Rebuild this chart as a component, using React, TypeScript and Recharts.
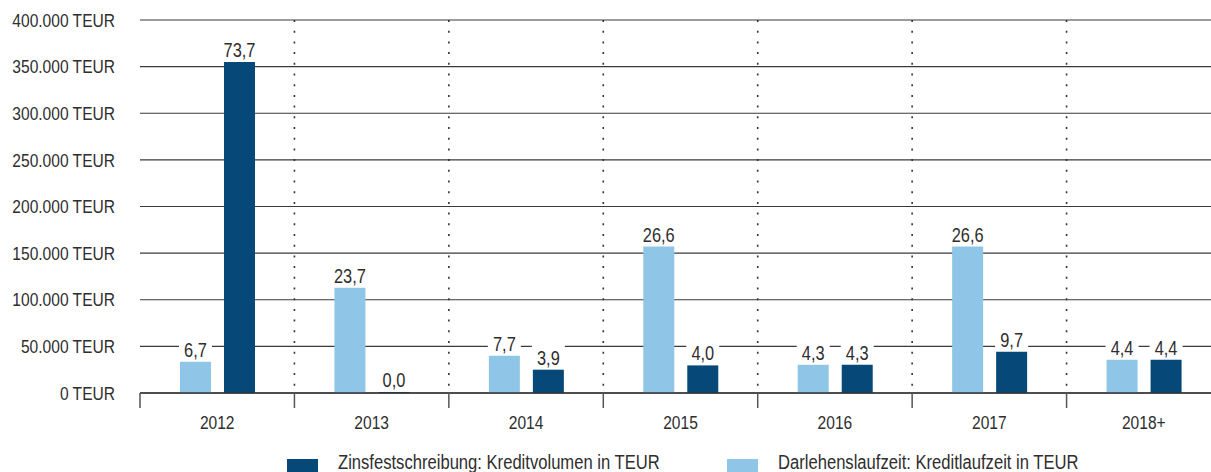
import React from 'react';
import { BarChart, Bar, XAxis, YAxis, CartesianGrid, Legend, LabelList } from 'recharts';

const categories = ['2012', '2013', '2014', '2015', '2016', '2017', '2018+'];
const laufzeitValues = [33500, 113000, 40000, 157000, 30300, 157000, 35700];
const volumenValues = [355000, 0, 25000, 29600, 30300, 44300, 35700];
const laufzeitLabels = ['6,7', '23,7', '7,7', '26,6', '4,3', '26,6', '4,4'];
const volumenLabels = ['73,7', '0,0', '3,9', '4,0', '4,3', '9,7', '4,4'];
const yTicks = [0, 50000, 100000, 150000, 200000, 250000, 300000, 350000, 400000];
const seriesNames = ['Zinsfestschreibung: Kreditvolumen in TEUR', 'Darlehenslaufzeit: Kreditlaufzeit in TEUR'];

const DARK = '#064877';
const LIGHT = '#8FC5E6';
const TEXT = '#2e2e2e';
const FONT = '"Liberation Sans", Arial, sans-serif';
const SX = 0.82;

const data = categories.map((c, i) => ({
  cat: c,
  laufzeit: laufzeitValues[i],
  volumen: volumenValues[i],
  laufzeitLabel: laufzeitLabels[i],
  volumenLabel: volumenLabels[i],
}));

const fmt = (v: number) => String(v).replace(/\B(?=(\d{3})+(?!\d))/g, '.') + ' TEUR';

const BarLabel = (props: any) => {
  const { x, y, width, value } = props;
  const cx = Number(x) + Number(width) / 2;
  const top = Number(y);
  return (
    <g>
      <rect x={Number(x) - 1} y={top - 25} width={Number(width) + 2} height={22} fill="#ffffff" />
      <text
        transform={`translate(${cx},${top - 5}) scale(${SX},1)`}
        textAnchor="middle"
        fill={TEXT}
        fontSize={20}
        fontFamily={FONT}
      >
        {value}
      </text>
    </g>
  );
};

const XTick = (props: any) => {
  const { x, y, payload, index } = props;
  const half = payload && payload.offset ? payload.offset : 1081 / 14;
  const axisY = 393;
  return (
    <g>
      <line x1={x - half} x2={x - half} y1={axisY} y2={axisY + 15} stroke="#555" strokeWidth={1.5} />
      {index === categories.length - 1 && (
        <line x1={x + half} x2={x + half} y1={axisY} y2={axisY + 15} stroke="#555" strokeWidth={1.5} />
      )}
      <text
        transform={`translate(${x},${y}) scale(${SX},1)`}
        dy="0.71em"
        textAnchor="middle"
        fill={TEXT}
        fontSize={19}
        fontFamily={FONT}
      >
        {payload.value}
      </text>
    </g>
  );
};

const YTick = (props: any) => {
  const { x, y, payload } = props;
  return (
    <text
      transform={`translate(${x},${y}) scale(${SX},1)`}
      dy="0.355em"
      textAnchor="end"
      fill={TEXT}
      fontSize={19}
      fontFamily={FONT}
    >
      {fmt(payload.value)}
    </text>
  );
};

const LegendContent = () => {
  const colors = [DARK, LIGHT];
  const widths = [440, 440];
  return (
    <div style={{ display: 'flex', alignItems: 'center', paddingLeft: 287, fontFamily: FONT, fontSize: 20, color: TEXT, height: 20 }}>
      {seriesNames.map((n, i) => (
        <div key={n} style={{ display: 'flex', alignItems: 'center', width: widths[i], flex: 'none' }}>
          <span style={{ display: 'inline-block', width: 31, height: 13, background: colors[i], marginRight: 20, marginTop: 6, flex: 'none' }} />
          <span style={{ whiteSpace: 'nowrap', display: 'inline-block', transform: `scaleX(0.83)`, transformOrigin: 'left center' }}>{n}</span>
        </div>
      ))}
    </div>
  );
};

export default function App() {
  return (
    <div style={{ position: 'absolute', left: 0, top: 0, width: 1211, height: 472, background: '#fff', overflow: 'hidden' }}>
      <BarChart
        width={1211}
        height={472}
        data={data}
        margin={{ top: 20, right: -10, bottom: 0, left: 0 }}
        barSize={31}
        barGap={13}
      >
        <CartesianGrid stroke="#3a3a3a" strokeWidth={1.2} vertical={false} />
        <CartesianGrid
          horizontal={false}
          stroke="#333"
          strokeWidth={1.6}
          strokeDasharray="2 8.7"
          verticalCoordinatesGenerator={({ offset }: any) =>
            categories.slice(1).map((_, i) => offset.left + ((i + 1) * offset.width) / categories.length)
          }
        />
        <XAxis
          dataKey="cat"
          tickLine={false}
          axisLine={{ stroke: '#333', strokeWidth: 1.5 }}
          tick={<XTick />}
          tickSize={0}
          tickMargin={23}
          height={59}
          interval={0}
        />
        <YAxis
          width={140}
          domain={[0, 400000]}
          ticks={yTicks}
          axisLine={false}
          tickLine={false}
          tickSize={0}
          tickMargin={25}
          tick={<YTick />}
        />
        <Legend verticalAlign="bottom" height={20} content={<LegendContent />} wrapperStyle={{ left: 0, width: 1211 }} />
        <Bar dataKey="laufzeit" fill={LIGHT} isAnimationActive={false}>
          <LabelList dataKey="laufzeitLabel" content={<BarLabel />} />
        </Bar>
        <Bar dataKey="volumen" fill={DARK} isAnimationActive={false} minPointSize={1}>
          <LabelList dataKey="volumenLabel" content={<BarLabel />} />
        </Bar>
      </BarChart>
    </div>
  );
}
